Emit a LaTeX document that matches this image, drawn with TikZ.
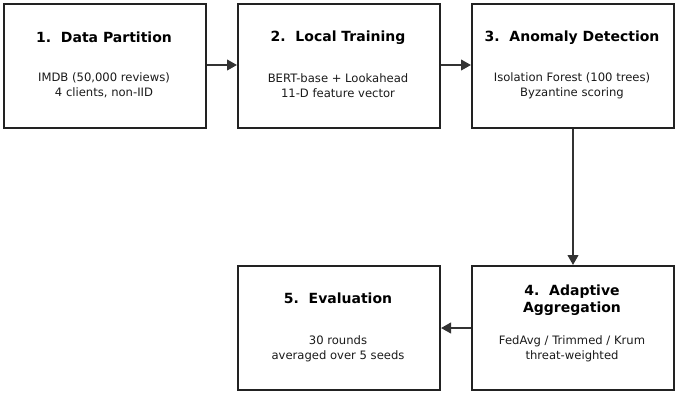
\documentclass[tikz,border=0pt]{standalone}
\usepackage{fontspec}
\setmainfont{DejaVu Sans}
\usetikzlibrary{arrows.meta}
\definecolor{boxc}{HTML}{222222}
\definecolor{arrc}{HTML}{333333}
\definecolor{txtc}{HTML}{1A1A1A}
\begin{document}
\begin{tikzpicture}[x=0.75pt,y=-0.75pt,
 box/.style={draw=boxc, line width=1.5pt, minimum width=151.5pt, minimum height=93pt, inner sep=0pt, anchor=north west},
 ttl/.style={font=\bfseries\fontsize{10.5}{12.75}\selectfont, align=center, text=black, inner sep=0pt},
 body/.style={font=\fontsize{8.7}{11.25}\selectfont, align=center, text=txtc, inner sep=0pt},
 conn/.style={draw=arrc, line width=1.5pt, -{Triangle[length=7.5pt,width=8pt]}}]
\useasboundingbox (0,0) rectangle (677,394);
\node[box] (b1) at (3,3) {};
\node[box] (b2) at (237,3) {};
\node[box] (b3) at (471,3) {};
\node[box] (b4) at (471,265) {};
\node[box] (b5) at (237,265) {};
\node[ttl] (t1) at (104,37.5) {1.\ \ Data Partition};
\node[body] (d1) at (104,85.5) {IMDB (50,000 reviews)\\4 clients, non-IID};
\node[ttl] (t2) at (338,37.5) {2.\ \ Local Training};
\node[body] (d2) at (338,85.5) {BERT-base + Lookahead\\11-D feature vector};
\node[ttl] (t3) at (572,37.5) {3.\ \ Anomaly Detection};
\node[body] (d3) at (572,85.5) {Isolation Forest (100 trees)\\Byzantine scoring};
\node[ttl] (t4) at (572,300.5) {4.\ \ Adaptive\\Aggregation};
\node[body] (d4) at (572,348.5) {FedAvg / Trimmed / Krum\\threat-weighted};
\node[ttl] (t5) at (338,298.5) {5.\ \ Evaluation};
\node[body] (d5) at (338,348.5) {30 rounds\\averaged over 5 seeds};
\draw[conn] (b1.east |- 0,65) -- (b2.west |- 0,65);
\draw[conn] (b2.east |- 0,65) -- (b3.west |- 0,65);
\draw[conn] (b3.south) -- (b4.north);
\draw[conn] (b4.west) -- (b5.east);
\end{tikzpicture}
\end{document}
